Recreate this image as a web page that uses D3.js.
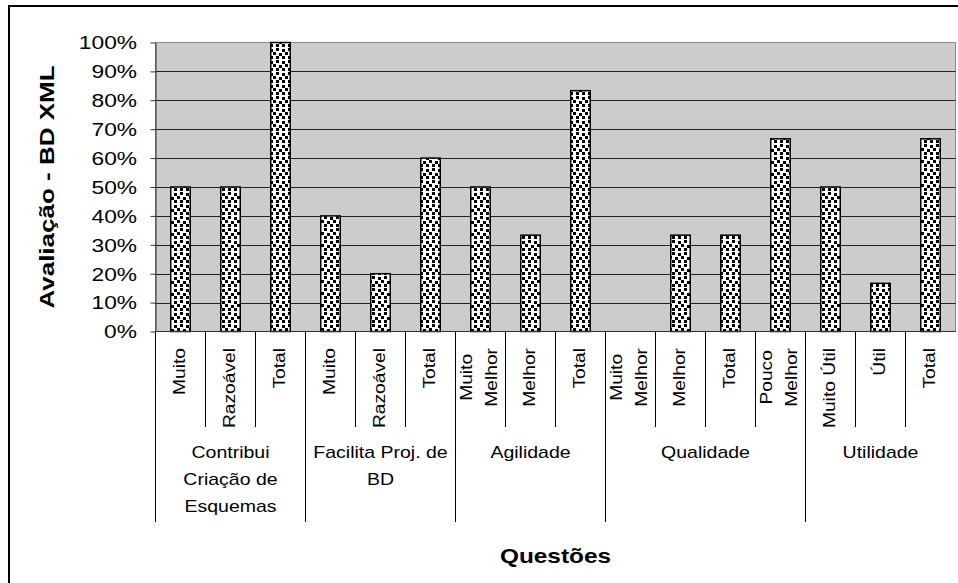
<!DOCTYPE html>
<html>
<head>
<meta charset="utf-8">
<script src="https://cdn.jsdelivr.net/npm/d3@7"></script>
<style>
  html, body { margin: 0; padding: 0; background: #fff; }
  svg { display: block; font-family: "Liberation Sans", Arial, sans-serif; }
</style>
</head>
<body>
<svg id="chart" width="958" height="583"></svg>
<script>
// Question groups (wrapped label lines) and how many answers each one has
const groups = [["Contribui", "Criação de", "Esquemas"], ["Facilita Proj. de", "BD"], ["Agilidade"], ["Qualidade"], ["Utilidade"]];
const groupSizes = [3, 3, 3, 4, 3];

// Answer labels (one entry per bar, split into lines)
const answers = [
  ["Muito"], ["Razoável"], ["Total"],
  ["Muito"], ["Razoável"], ["Total"],
  ["Muito", "Melhor"], ["Melhor"], ["Total"],
  ["Muito", "Melhor"], ["Melhor"], ["Total"], ["Pouco", "Melhor"],
  ["Muito Útil"], ["Útil"], ["Total"]
];

// Share of answers for each bar
const values = [
  0.50, 0.50, 1.00,
  0.40, 0.20, 0.60,
  0.50, 0.3333, 0.8333,
  0.00, 0.3333, 0.3333, 0.6667,
  0.50, 0.1667, 0.6667
];

const yTicks = [0, 0.1, 0.2, 0.3, 0.4, 0.5, 0.6, 0.7, 0.8, 0.9, 1.0];
const yTitle = "Avaliação - BD XML";
const xTitle = "Questões";

const svg = d3.select("#chart");
const W = 958, H = 583;
const plot = { left: 155.5, right: 955.5, top: 42.5, bottom: 331.5 };

// Confetti fill used for the bars
const defs = svg.append("defs");
const pat = defs.append("pattern")
  .attr("id", "dots").attr("patternUnits", "userSpaceOnUse")
  .attr("width", 12).attr("height", 12);
pat.append("rect").attr("width", 12).attr("height", 12).attr("fill", "#fff");
[[0, 0], [6, 1], [3, 5], [9, 4], [0, 8], [6, 8]].forEach(([px, py]) => {
  pat.append("rect").attr("x", px).attr("y", py).attr("width", 3).attr("height", 3).attr("fill", "#000");
});

// Outer chart frame
svg.append("rect")
  .attr("x", 9).attr("y", 6).attr("width", W + 20).attr("height", H + 20)
  .attr("fill", "#fff").attr("stroke", "#000").attr("stroke-width", 2);

const x = d3.scaleBand().domain(d3.range(values.length)).range([plot.left, plot.right]).padding(0);
const y = d3.scaleLinear().domain([0, 1]).range([plot.bottom, plot.top]);
const step = x.step();
const barW = step * 0.39;

// Plot area
svg.append("rect")
  .attr("x", plot.left).attr("y", plot.top)
  .attr("width", plot.right - plot.left).attr("height", plot.bottom - plot.top)
  .attr("fill", "#cccccc").attr("stroke", "#8a8a8a").attr("stroke-width", 1);

// Horizontal gridlines
svg.append("g").selectAll("line")
  .data(yTicks.filter(t => t > 0 && t < 1))
  .join("line")
  .attr("x1", plot.left).attr("x2", plot.right)
  .attr("y1", d => Math.round(y(d)) + 0.5).attr("y2", d => Math.round(y(d)) + 0.5)
  .attr("stroke", "#222").attr("stroke-width", 1);

// Bars
svg.append("g").selectAll("rect")
  .data(values.map((v, i) => ({ v, i })).filter(d => d.v > 0))
  .join("rect")
  .attr("x", d => x(d.i) + (step - barW) / 2)
  .attr("y", d => y(d.v))
  .attr("width", barW)
  .attr("height", d => y(0) - y(d.v))
  .attr("fill", "url(#dots)")
  .attr("stroke", "#000").attr("stroke-width", 1.5);

// Y axis
const yAxis = svg.append("g")
  .attr("transform", `translate(${plot.left},0)`)
  .call(d3.axisLeft(y).tickValues(yTicks).tickSize(5).tickSizeOuter(0).tickFormat(d3.format(".0%")));
yAxis.select(".domain").attr("stroke", "#333");
yAxis.selectAll(".tick line").attr("stroke", "#333");
yAxis.selectAll(".tick text")
  .attr("x", null).attr("dy", "0.36em")
  .attr("transform", "translate(-18.5,0) scale(1.3,1)")
  .attr("text-anchor", "end")
  .attr("font-family", "Liberation Sans, Arial, sans-serif")
  .attr("font-size", 17.5).attr("fill", "#000");

// Category axis: baseline plus separators between answers and question groups
const ax = svg.append("g").attr("stroke", "#000").attr("stroke-width", 1);
ax.append("line").attr("x1", plot.left).attr("x2", plot.right)
  .attr("y1", plot.bottom).attr("y2", plot.bottom).attr("stroke", "#333");
const groupStarts = groupSizes.reduce((acc, n) => { acc.push(acc[acc.length - 1] + n); return acc; }, [0]);
const subEnd = 427, groupEnd = 522;
for (let b = 0; b < values.length; b++) {
  const xb = plot.left + b * step;
  const isGroup = groupStarts.includes(b);
  ax.append("line")
    .attr("x1", xb).attr("x2", xb)
    .attr("y1", plot.bottom).attr("y2", isGroup ? groupEnd : subEnd);
}

// Rotated answer labels
const subFont = 16.3, subStretch = 1.18, subTop = 348, lineGap = 25;
const subG = svg.append("g");
answers.forEach((lines, i) => {
  const cx = x(i) + step / 2 - 1.5;
  const lens = lines.map(t => {
    const tmp = subG.append("text").attr("font-size", subFont).text(t);
    const l = tmp.node().getComputedTextLength();
    tmp.remove();
    return l * subStretch;
  });
  const block = d3.max(lens);
  const cy = subTop + block / 2;
  lines.forEach((t, k) => {
    const lx = cx + (k - (lines.length - 1) / 2) * lineGap;
    subG.append("text")
      .attr("transform", `translate(${lx},${cy}) rotate(-90) scale(${subStretch},1)`)
      .attr("text-anchor", "middle").attr("dy", "0.36em")
      .attr("font-size", subFont).attr("fill", "#000")
      .text(t);
  });
});

// Question group labels
const grpG = svg.append("g");
groups.forEach((lines, g) => {
  const x0 = plot.left + groupStarts[g] * step;
  const x1 = plot.left + groupStarts[g + 1] * step;
  const cx = (x0 + x1) / 2;
  lines.forEach((t, k) => {
    grpG.append("text")
      .attr("transform", `translate(${cx},${452 + k * 27}) scale(1.22,1)`)
      .attr("text-anchor", "middle").attr("dy", "0.36em")
      .attr("font-size", 16).attr("fill", "#000")
      .text(t);
  });
});

// Axis titles
svg.append("text")
  .attr("transform", `translate(47,${(plot.top + plot.bottom) / 2}) rotate(-90) scale(1.3,1)`)
  .attr("text-anchor", "middle").attr("dy", "0.36em")
  .attr("font-size", 20).attr("font-weight", "bold").attr("fill", "#000")
  .text(yTitle);

svg.append("text")
  .attr("transform", `translate(${(plot.left + plot.right) / 2},556) scale(1.22,1)`)
  .attr("text-anchor", "middle").attr("dy", "0.36em")
  .attr("font-size", 20).attr("font-weight", "bold").attr("fill", "#000")
  .text(xTitle);
</script>
</body>
</html>
